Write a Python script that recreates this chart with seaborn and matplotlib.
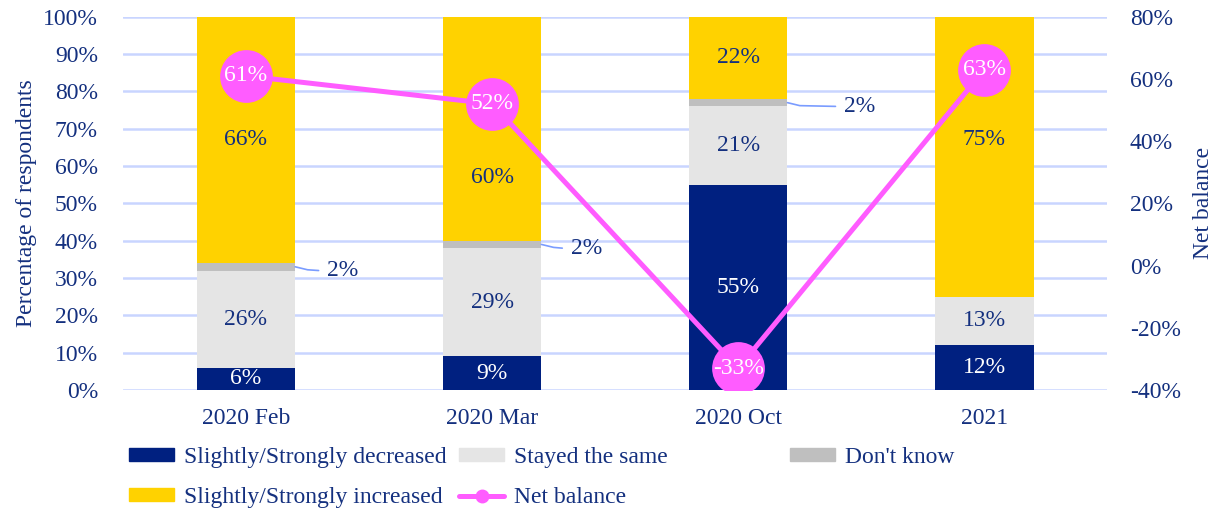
import numpy as np
import pandas as pd
import seaborn as sns
import matplotlib.pyplot as plt
from matplotlib.patches import Patch
from matplotlib.lines import Line2D
from matplotlib.ticker import PercentFormatter

periods = ['2020 Feb', '2020 Mar', '2020 Oct', '2021']
decreased = [6, 9, 55, 12]
same = [26, 29, 21, 13]
dont_know = [2, 2, 2, 0]
increased = [66, 60, 22, 75]
net_balance = [61, 52, -33, 63]

# where the "increased" labels sit (moved clear of the net balance markers)
inc_label_y = [67, 57, 89, 67]
# how far right of the bar centre the "don't know" labels sit
dk_label_dx = [0.33, 0.32, 0.43, 0.33]

navy = '#002080'
light = '#e5e5e5'
grey = '#bfbfbf'
yellow = '#ffd200'
magenta = '#ff5cff'
txt = '#14307f'
fs = 17

sns.set_theme(style='white')
plt.rcParams['font.family'] = ['Liberation Serif', 'DejaVu Serif']
plt.rcParams['axes.unicode_minus'] = False

df = pd.DataFrame({'period': periods, 'dec': decreased, 'same': same,
                   'dk': dont_know, 'inc': increased})
df['c_dec'] = df['dec']
df['c_same'] = df['c_dec'] + df['same']
df['c_dk'] = df['c_same'] + df['dk']
df['c_inc'] = df['c_dk'] + df['inc']

fig = plt.figure(figsize=(12.17, 5.11), dpi=100)
ax = fig.add_axes([0.101, 0.237, 0.809, 0.730])

# stacked bars drawn as overlapping cumulative totals
for col, color in [('c_inc', yellow), ('c_dk', grey), ('c_same', light), ('c_dec', navy)]:
    sns.barplot(data=df, x='period', y=col, color=color, width=0.4,
                saturation=1, errorbar=None, linewidth=0, ax=ax)

ax.set_ylim(0, 100)
ax.set_yticks(range(0, 101, 10))
ax.yaxis.set_major_formatter(PercentFormatter(decimals=0))
ax.yaxis.grid(True, color='#c9d5ff', lw=1.8)
ax.set_axisbelow(True)
for s in ax.spines.values():
    s.set_visible(False)
ax.tick_params(axis='both', length=0, labelsize=fs, labelcolor=txt)
ax.tick_params(axis='y', pad=18)
ax.tick_params(axis='x', pad=13)
ax.set_xlabel('')
ax.set_ylabel('Percentage of respondents', fontsize=fs, color=txt, labelpad=4)

# segment labels
for i, r in df.iterrows():
    ax.text(i, r['dec'] / 2, f"{r['dec']}%", ha='center', va='center',
            color='white', fontsize=fs)
    ax.text(i, r['c_dec'] + r['same'] / 2, f"{r['same']}%", ha='center',
            va='center', color=txt, fontsize=fs)
    ax.text(i, inc_label_y[i], f"{r['inc']}%", ha='center',
            va='center', color=txt, fontsize=fs)
    if r['dk'] > 0:
        c = r['c_same'] + r['dk'] / 2
        dx = dk_label_dx[i]
        ax.plot([i + 0.2, i + 0.25, i + dx - 0.035], [c, c - 0.8, c - 1],
                color='#7a9cff', lw=1.2)
        ax.text(i + dx, c - 1, f"{r['dk']}%", ha='left', va='center',
                color=txt, fontsize=fs)

ax2 = ax.twinx()
sns.lineplot(x=np.arange(len(periods)), y=net_balance, ax=ax2, color=magenta,
             lw=3.6, marker='o', markersize=38, markeredgewidth=0)
ax2.set_ylim(-40, 80)
ax2.set_yticks(range(-40, 81, 20))
ax2.yaxis.set_major_formatter(PercentFormatter(decimals=0))
for s in ax2.spines.values():
    s.set_visible(False)
ax2.tick_params(axis='y', length=0, labelsize=fs, labelcolor=txt, pad=16)
ax2.set_ylabel('Net balance', fontsize=fs, color=txt, labelpad=9)
for i, v in enumerate(net_balance):
    ax2.text(i, v, f'{v}%', ha='center', va='center', color='white',
             fontsize=fs, zorder=10)
ax.set_xlim(-0.5, 3.5)

h_dec = Patch(color=navy, label='Slightly/Strongly decreased')
h_inc = Patch(color=yellow, label='Slightly/Strongly increased')
h_same = Patch(color=light, label='Stayed the same')
h_net = Line2D([], [], color=magenta, lw=3.6, marker='o', markersize=9,
               label='Net balance')
h_dk = Patch(color=grey, label="Don't know")

common = dict(frameon=False, fontsize=fs, labelcolor=txt, handlelength=1.9,
              handleheight=0.45, handletextpad=0.42, borderpad=0,
              borderaxespad=0, labelspacing=0.8)
fig.legend(handles=[h_dec, h_inc, h_same, h_net], ncol=2,
           loc='upper left', bbox_to_anchor=(0.106, 0.125),
           columnspacing=0.55, **common)
fig.legend(handles=[h_dk], loc='upper left', bbox_to_anchor=(0.649, 0.125),
           **common)

fig.savefig('out.png', dpi=100)
